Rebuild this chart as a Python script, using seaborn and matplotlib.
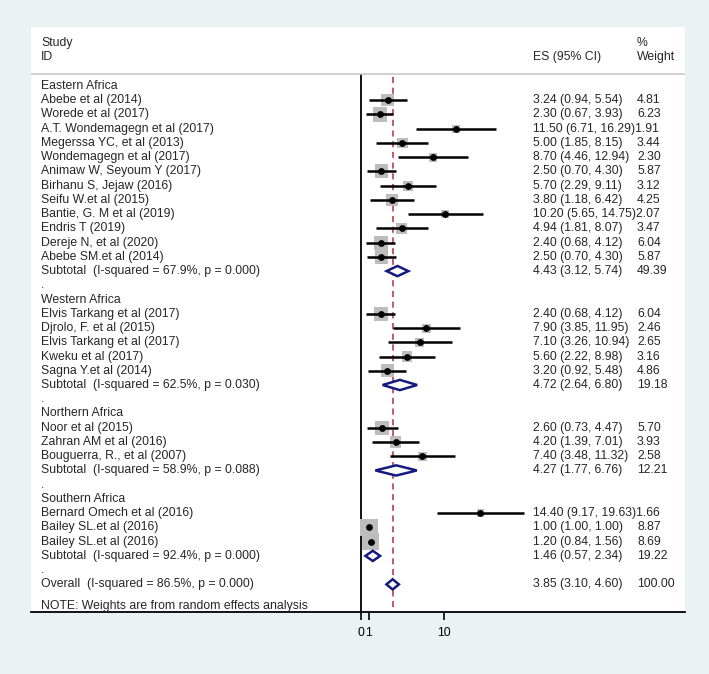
import pandas as pd
import seaborn as sns
import matplotlib.pyplot as plt
from matplotlib.patches import Polygon

# Données de la méta-analyse
regions = ["Eastern Africa", "Western Africa", "Northern Africa", "Southern Africa"]

study_region = [0] * 12 + [1] * 5 + [2] * 3 + [3] * 3
study_labels = [
    "Abebe et al (2014)", "Worede et al (2017)", "A.T. Wondemagegn et al (2017)",
    "Megerssa YC, et al (2013)", "Wondemagegn et al (2017)", "Animaw W, Seyoum Y (2017)",
    "Birhanu S, Jejaw (2016)", "Seifu W.et al (2015)", "Bantie, G. M et al (2019)",
    "Endris T (2019)", "Dereje N, et al (2020)", "Abebe SM.et al (2014)",
    "Elvis Tarkang et al (2017)", "Djrolo, F. et al (2015)", "Elvis Tarkang et al (2017)",
    "Kweku et al (2017)", "Sagna Y.et al (2014)",
    "Noor et al (2015)", "Zahran AM et al (2016)", "Bouguerra, R., et al (2007)",
    "Bernard Omech et al (2016)", "Bailey SL.et al (2016)", "Bailey SL.et al (2016)",
]
study_es = [3.24, 2.30, 11.50, 5.00, 8.70, 2.50, 5.70, 3.80, 10.20, 4.94, 2.40, 2.50,
            2.40, 7.90, 7.10, 5.60, 3.20,
            2.60, 4.20, 7.40,
            14.40, 1.00, 1.20]
study_lo = [0.94, 0.67, 6.71, 1.85, 4.46, 0.70, 2.29, 1.18, 5.65, 1.81, 0.68, 0.70,
            0.68, 3.85, 3.26, 2.22, 0.92,
            0.73, 1.39, 3.48,
            9.17, 1.00, 0.84]
study_hi = [5.54, 3.93, 16.29, 8.15, 12.94, 4.30, 9.11, 6.42, 14.75, 8.07, 4.12, 4.30,
            4.12, 11.95, 10.94, 8.98, 5.48,
            4.47, 7.01, 11.32,
            19.63, 1.00, 1.56]
study_weight = [4.81, 6.23, 1.91, 3.44, 2.30, 5.87, 3.12, 4.25, 2.07, 3.47, 6.04, 5.87,
                6.04, 2.46, 2.65, 3.16, 4.86,
                5.70, 3.93, 2.58,
                1.66, 8.87, 8.69]

sub_i2 = [67.9, 62.5, 58.9, 92.4]
sub_p = [0.000, 0.030, 0.088, 0.000]
sub_es = [4.43, 4.72, 4.27, 1.46]
sub_lo = [3.12, 2.64, 1.77, 0.57]
sub_hi = [5.74, 6.80, 6.76, 2.34]
sub_weight = [49.39, 19.18, 12.21, 19.22]

overall_i2, overall_p = 86.5, 0.000
overall_es, overall_lo, overall_hi, overall_weight = 3.85, 3.10, 4.60, 100.00

x_ticks = [0, 1, 10]

# Style
sns.set_style("white")
plt.rcParams['font.family'] = ['Liberation Sans', 'DejaVu Sans']
fs = 8.8
bg = '#eaf2f3'
navy = '#141a80'

fig = plt.figure(figsize=(7.09, 6.74), dpi=100, facecolor=bg)
ax = fig.add_axes([31 / 709, 1 - 612 / 674, (685 - 31) / 709, (612 - 27) / 674])
ax.set_facecolor('white')

# Construction des lignes du tableau
text_rows = []   # (row, label, es_txt, w_txt)
diamonds = []    # (row, es, lo, hi)
study_rows = []
r = 0
for g, name in enumerate(regions):
    text_rows.append((r, name, "", ""))
    r += 1
    for i, reg in enumerate(study_region):
        if reg != g:
            continue
        study_rows.append(r)
        es_txt = f"{study_es[i]:.2f} ({study_lo[i]:.2f}, {study_hi[i]:.2f})"
        text_rows.append((r, study_labels[i], es_txt, f"{study_weight[i]:.2f}"))
        r += 1
    lab = f"Subtotal  (I-squared = {sub_i2[g]:.1f}%, p = {sub_p[g]:.3f})"
    es_txt = f"{sub_es[g]:.2f} ({sub_lo[g]:.2f}, {sub_hi[g]:.2f})"
    text_rows.append((r, lab, es_txt, f"{sub_weight[g]:.2f}"))
    diamonds.append((r, sub_es[g], sub_lo[g], sub_hi[g]))
    r += 1
    text_rows.append((r, ".", "", ""))
    r += 1
lab = f"Overall  (I-squared = {overall_i2:.1f}%, p = {overall_p:.3f})"
es_txt = f"{overall_es:.2f} ({overall_lo:.2f}, {overall_hi:.2f})"
text_rows.append((r, lab, es_txt, f"{overall_weight:.2f}"))
diamonds.append((r, overall_es, overall_lo, overall_hi))
overall_row = r

df = pd.DataFrame({
    'es': study_es, 'lo': study_lo, 'hi': study_hi,
    'weight': study_weight, 'row': study_rows,
})

y_top, y_bottom = -4.14, 36.94
header_y = -0.84
ax.set_xlim(-39.72, 39.07)
ax.set_ylim(y_bottom, y_top)

# Carrés gris (taille proportionnelle au poids)
sns.scatterplot(data=df, x='es', y='row', marker='s', s=df['weight'] * 17.0,
                color='#bdbdbd', linewidth=0, ax=ax, zorder=2, legend=False)
# Intervalles de confiance
ax.hlines(df['row'], df['lo'], df['hi'], color='black', lw=1.8, zorder=3)
# Estimations ponctuelles
sns.scatterplot(data=df, x='es', y='row', marker='o', s=24, color='black',
                linewidth=0, ax=ax, zorder=4, legend=False)

# Losanges des sous-totaux et global
for row, est, lo, hi in diamonds:
    h = 0.36
    poly = Polygon([(lo, row), (est, row - h), (hi, row), (est, row + h)],
                   closed=True, facecolor='white', edgecolor=navy, lw=1.8, zorder=5)
    ax.add_patch(poly)

# Lignes de référence
ax.vlines(0, header_y, y_bottom, color='black', lw=1.3, zorder=1)
ax.vlines(overall_es, -0.6, y_bottom, color='#b03038', lw=1.1,
          linestyles=(0, (4, 3)), zorder=1)
ax.axhline(header_y, color='#c8c8c8', lw=1.2)

# Textes
tr = ax.get_yaxis_transform()
x_study, x_es, x_w = (41 - 31) / 654, (533 - 31) / 654, (637 - 31) / 654
ax.text(x_study, -3.0, "Study", transform=tr, va='center', fontsize=fs)
ax.text(x_study, -2.04, "ID", transform=tr, va='center', fontsize=fs)
ax.text(x_es, -2.04, "ES (95% CI)", transform=tr, va='center', fontsize=fs)
ax.text(x_w, -3.0, "%", transform=tr, va='center', fontsize=fs)
ax.text(x_w, -2.04, "Weight", transform=tr, va='center', fontsize=fs)

for row, lab, es_txt, w_txt in text_rows:
    ax.text(x_study, row, lab, transform=tr, va='center', fontsize=fs)
    if len(es_txt) > 18:
        ax.text(x_es, row, es_txt + w_txt, transform=tr, va='center', fontsize=fs)
    elif es_txt:
        ax.text(x_es, row, es_txt, transform=tr, va='center', fontsize=fs)
        ax.text(x_w, row, w_txt, transform=tr, va='center', fontsize=fs)

ax.text(x_study, overall_row + 1.5, "NOTE: Weights are from random effects analysis",
        transform=tr, va='center', fontsize=fs)

# Axes
for side in ['top', 'left', 'right']:
    ax.spines[side].set_visible(False)
ax.spines['bottom'].set_color('black')
ax.spines['bottom'].set_linewidth(1.3)
ax.set_yticks([])
ax.set_xticks(x_ticks)
ax.set_xticklabels([str(t) for t in x_ticks])
ax.tick_params(axis='x', direction='out', length=6, width=1.2, pad=5,
               labelsize=fs, colors='black', bottom=True)
ax.set_xlabel('')
ax.set_ylabel('')

fig.savefig('out.png', dpi=100, facecolor=bg)
